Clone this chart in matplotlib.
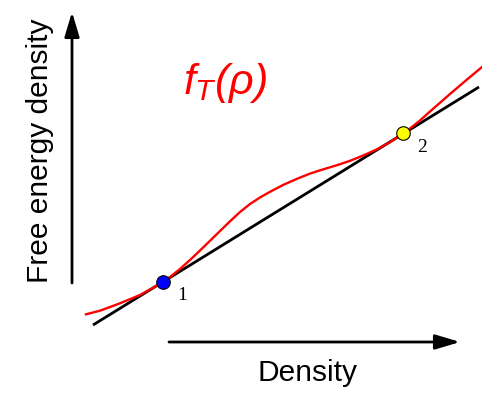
import matplotlib
matplotlib.use("Agg")
import matplotlib.pyplot as plt

plt.rcParams['mathtext.fontset'] = 'custom'
plt.rcParams['mathtext.it'] = 'Liberation Sans:italic'
plt.rcParams['mathtext.rm'] = 'Liberation Sans:italic'

H = 393

# Schematic data (arbitrary units)
density = [86, 100, 120, 140, 153, 163, 170, 180, 190, 200, 210, 220, 230, 240, 250, 260, 270,
           283, 297, 310, 323, 337, 350, 363, 377, 390, 403, 410, 420, 430, 450, 467, 482]
free_energy_px = [314.3, 310.7, 303.3, 295, 287.8, 282, 277, 269, 260, 250.5, 240.8, 231, 221.3,
                  212, 204, 197.5, 191.8, 185, 178.8, 173.6, 169.4, 165.2, 160.8, 155.6, 149.3,
                  142.2, 133.5, 128.5, 120.5, 111.5, 94, 79.5, 67]
free_energy = [H - v for v in free_energy_px]

tangent_density = [93, 479]
tangent_energy = [H - 325, H - 87]

coexist_density = [163, 403]
coexist_energy = [H - 282, H - 133]
coexist_labels = ["1", "2"]
coexist_colors = ["#0000ff", "#ffff00"]

fig = plt.figure(figsize=(4.82, 3.93), dpi=100)
ax = fig.add_axes([0, 0, 1, 1])
ax.set_xlim(0, 482)
ax.set_ylim(0, 393)
ax.axis('off')

ax.plot(tangent_density, tangent_energy, color='black', lw=2.0, solid_capstyle='butt', zorder=2)
ax.plot(density, free_energy, color='#ff0000', lw=1.7, zorder=3, solid_joinstyle='round')

for x, y, lab, c in zip(coexist_density, coexist_energy, coexist_labels, coexist_colors):
    ax.scatter([x], [y], s=95, color=c, edgecolor='black', linewidth=0.8, zorder=5)
    ax.text(x + 19, y - 14, lab, family='Liberation Serif', fontsize=14, ha='center', va='center', zorder=6)

# axes arrows
ax.annotate('', xy=(72, 381), xytext=(72, 110),
            arrowprops=dict(arrowstyle='-|>,head_length=1.5,head_width=0.45', lw=2.0, color='black',
                            shrinkA=0, shrinkB=0))
ax.annotate('', xy=(460, 51), xytext=(169, 51),
            arrowprops=dict(arrowstyle='-|>,head_length=1.5,head_width=0.45', lw=2.0, color='black',
                            shrinkA=0, shrinkB=0))

ax.text(308, 20, 'Density', family='Liberation Sans', fontsize=21.5, ha='center', va='center')
ax.text(40, 242, 'Free energy density', family='Liberation Sans', fontsize=21.5, ha='center', va='center',
        rotation=90)
ax.text(225, 310, r'$f_T(\rho)$', color='#ff0000', fontsize=31, ha='center', va='center')

fig.savefig('out.png', dpi=100)
